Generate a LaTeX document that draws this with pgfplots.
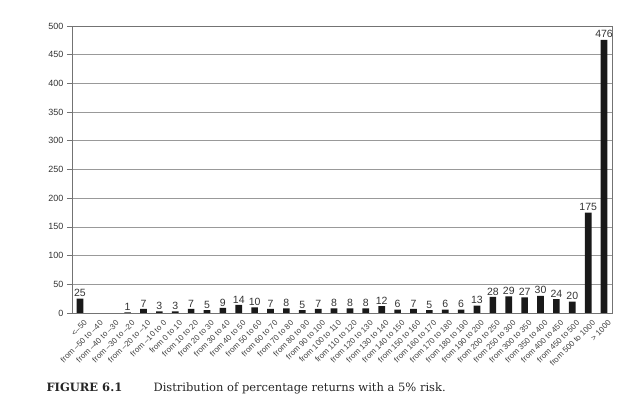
\documentclass[border=0pt]{standalone}
\usepackage{fontspec}
\setsansfont{Liberation Sans}
\newfontfamily\capfont{DejaVu Serif}
\usepackage{pgfplots}
\pgfplotsset{compat=1.18}
\begin{document}
\begin{tikzpicture}
\path[use as bounding box] (-72pt,-98pt) rectangle (553pt,313pt);
\begin{axis}[
  at={(0,0)}, anchor=south west,
  scale only axis, width=540pt, height=287pt,
  xmin=-0.5, xmax=33.5, ymin=0, ymax=500,
  ytick={0,50,...,500},
  /pgf/number format/assume math mode=true,
  ymajorgrids, grid style={black!40, line width=0.7pt},
  axis line style={black!55, line width=0.7pt},
  tick align=outside, tickpos=left,
  xtick={0,...,33},
  xticklabels={<–50, from –50 to –40, from –40 to –30, from –30 to –20, from –20 to –10, from –10 to 0, from 0 to 10, from 10 to 20, from 20 to 30, from 30 to 40, from 40 to 50, from 50 to 60, from 60 to 70, from 70 to 80, from 80 to 90, from 90 to 100, from 100 to 110, from 110 to 120, from 120 to 130, from 130 to 140, from 140 to 150, from 150 to 160, from 160 to 170, from 170 to 180, from 180 to 190, from 190 to 200, from 200 to 250, from 250 to 300, from 300 to 350, from 350 to 400, from 400 to 450, from 450 to 500, from 500 to 1000, > 1000},
  x tick label style={rotate=45, anchor=north east, inner sep=0.5pt, yshift=-3pt, xshift=2pt,
    font=\sffamily\fontsize{8}{9}\selectfont, text=black!75},
  major x tick style={draw=none},
  extra x ticks={-0.5,0.5,...,33.5},
  extra x tick labels={},
  extra x tick style={grid=none, major tick length=4pt, tick style={black!55, line width=0.6pt}},
  y tick label style={font=\sffamily\fontsize{9}{10}\selectfont, text=black!80},
  major y tick style={black!55, line width=0.6pt},
  major tick length=5pt,
  ybar, bar width=0.42,
  nodes near coords,
  every node near coord/.append style={font=\sffamily\fontsize{10.5}{11}\selectfont, text=black!80, inner sep=1.5pt},
]
\addplot[fill=black!90, draw=none] coordinates {
  (0,25) (3,1) (4,7) (5,3) (6,3) (7,7) (8,5) (9,9) (10,14) (11,10)
  (12,7) (13,8) (14,5) (15,7) (16,8) (17,8) (18,8) (19,12) (20,6) (21,7)
  (22,5) (23,6) (24,6) (25,13) (26,28) (27,29) (28,27) (29,30) (30,24) (31,20)
  (32,175) (33,476)
};
\end{axis}
\node[anchor=base west, font=\capfont\fontsize{11.5}{14}\selectfont\bfseries, text=black!85] at (-29pt,-79pt) {FIGURE 6.1};
\node[anchor=base west, font=\capfont\fontsize{11.5}{14}\selectfont, text=black!85] at (78pt,-79pt) {Distribution of percentage returns with a 5\% risk.};
\end{tikzpicture}
\end{document}
